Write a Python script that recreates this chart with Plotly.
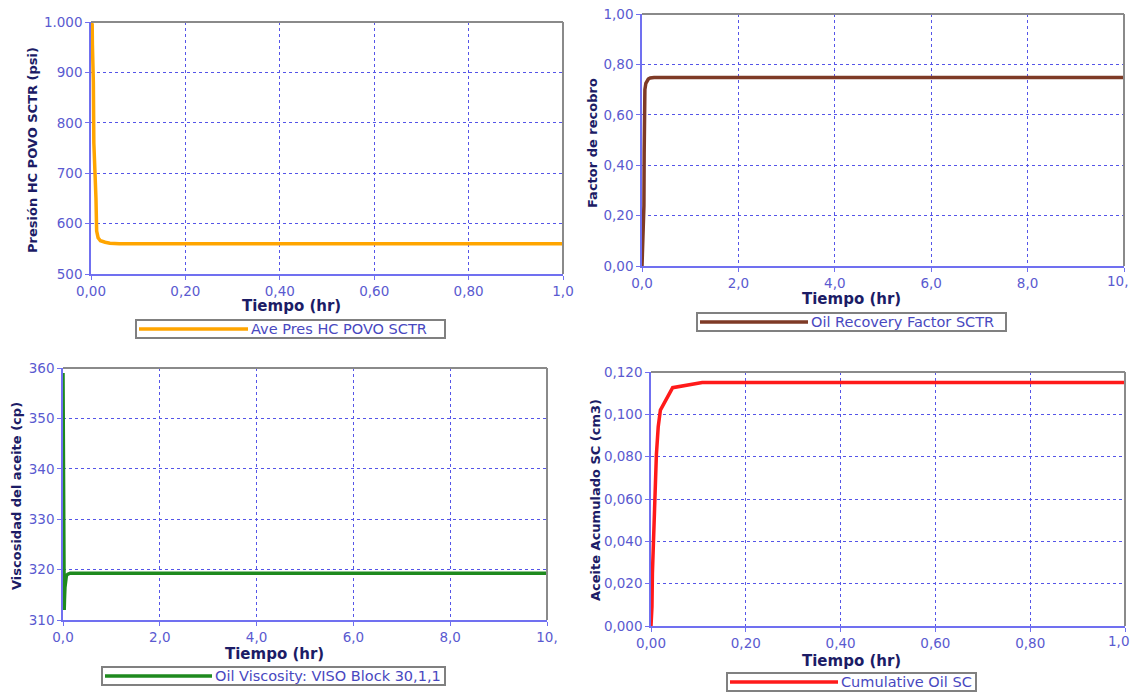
import plotly.graph_objects as go

# ---------------- data ----------------
# Panel 1: average pressure (psi) vs time (hr)
t_pres = [0, 0.0025, 0.003, 0.005, 0.006, 0.008, 0.0085, 0.0105, 0.012, 0.015, 0.02, 0.03, 0.04, 0.06, 0.2, 0.4, 0.6, 0.8, 1.0]
pres = [1000, 995, 955, 880, 760, 730, 700, 650, 585, 572, 566, 563, 561, 560, 560, 560, 560, 560, 560]

# Panel 2: oil recovery factor vs time (hr)
t_rf = [0, 0.04, 0.045, 0.05, 0.06, 0.08, 0.1, 0.13, 0.17, 0.25, 0.5, 1, 2, 4, 6, 8, 10]
rf = [0, 0.24, 0.45, 0.62, 0.70, 0.725, 0.735, 0.742, 0.746, 0.748, 0.748, 0.748, 0.748, 0.748, 0.748, 0.748, 0.748]

# Panel 3: oil viscosity (cp) vs time (hr)
t_visc = [0, 0.005, 0.01, 0.015, 0.02, 0.025, 0.03, 0.04, 0.05, 0.07, 0.1, 0.15, 0.3, 1, 2, 4, 6, 8, 10]
visc = [359, 350, 335, 320, 312, 312, 314, 316.5, 318.3, 318.8, 319.1, 319.3, 319.3, 319.3, 319.3, 319.3, 319.3, 319.3, 319.3]

# Panel 4: cumulative oil SC (cm3) vs time (hr)
t_cum = [0, 0.002, 0.003, 0.0053, 0.0076, 0.0091, 0.0114, 0.0152, 0.0198, 0.0457, 0.108, 0.2, 0.4, 0.6, 0.8, 1.0]
cum = [0, 0.009, 0.025, 0.040, 0.053, 0.069, 0.081, 0.094, 0.102, 0.1126, 0.115, 0.115, 0.115, 0.115, 0.115, 0.115]

# tick values / labels
xv_1 = [0, 0.2, 0.4, 0.6, 0.8, 1.0]
xt_1 = ["0,00", "0,20", "0,40", "0,60", "0,80", "1,0"]
xv_10 = [0, 2, 4, 6, 8, 10]
xt_10 = ["0,0", "2,0", "4,0", "6,0", "8,0", "10,"]
yv_pres = [500, 600, 700, 800, 900, 1000]
yt_pres = ["500", "600", "700", "800", "900", "1.000"]
yv_rf = [0, 0.2, 0.4, 0.6, 0.8, 1.0]
yt_rf = ["0,00", "0,20", "0,40", "0,60", "0,80", "1,00"]
yv_visc = [310, 320, 330, 340, 350, 360]
yt_visc = ["310", "320", "330", "340", "350", "360"]
yv_cum = [0, 0.02, 0.04, 0.06, 0.08, 0.10, 0.12]
yt_cum = ["0,000", "0,020", "0,040", "0,060", "0,080", "0,100", "0,120"]

names = ["Ave Pres HC POVO SCTR", "Oil Recovery Factor SCTR", "Oil Viscosity: VISO Block 30,1,1", "Cumulative Oil SC"]
ytitles = ["Presión HC POVO SCTR (psi)", "Factor de recobro", "Viscosidad del aceite (cp)", "Aceite Acumulado SC (cm3)"]
xtitle = "Tiempo (hr)"
colors = ["#FFA500", "#7E3A26", "#1E8A1E", "#FF1A1A"]

# ---------------- layout helpers ----------------
W, H = 1133, 692
def fx(px):
    return px / W
def fy(py):
    return 1 - py / H

# plot area boxes in pixels: (left, right, top, bottom)
boxes = [(91, 563, 22, 274), (642, 1124, 14, 266), (63, 547, 368, 620), (651, 1125, 372, 626)]
right_col = [False, True, False, True]

TICK_C = "#5A5AD0"
TITLE_C = "#1C1C66"
AXIS_C = "#7070F0"
GRID_C = "#5555E8"
LEG_TXT = "#4848C0"

fig = go.Figure()
series = [(t_pres, pres), (t_rf, rf), (t_visc, visc), (t_cum, cum)]
for i, (tx, ty) in enumerate(series):
    sfx = "" if i == 0 else str(i + 1)
    fig.add_trace(go.Scatter(x=tx, y=ty, mode="lines", name=names[i],
                             line=dict(color=colors[i], width=3.5),
                             xaxis="x" + sfx, yaxis="y" + sfx, showlegend=False))

xcfg = [(xv_1, xt_1, [0, 1]), (xv_10, xt_10, [0, 10]), (xv_10, xt_10, [0, 10]), (xv_1, xt_1, [0, 1])]
ycfg = [(yv_pres, yt_pres, [500, 1000]), (yv_rf, yt_rf, [0, 1]), (yv_visc, yt_visc, [310, 360]), (yv_cum, yt_cum, [0, 0.12])]

tickfont = dict(family="DejaVu Sans", size=13.5, color=TICK_C)
layout = dict(width=W, height=H, margin=dict(l=0, r=0, t=0, b=0, autoexpand=False),
              paper_bgcolor="white", plot_bgcolor="white", showlegend=False)
shapes = []
annotations = []
for i in range(4):
    sfx = "" if i == 0 else str(i + 1)
    l, r, t, b = boxes[i]
    xv, xt, xr = xcfg[i]
    yv, yt, yr = ycfg[i]
    common = dict(tickfont=tickfont, showline=True, linecolor=AXIS_C, linewidth=1.5,
                  ticks="outside", ticklen=4, tickcolor=AXIS_C,
                  showgrid=True, gridcolor=GRID_C, griddash="dot", gridwidth=1,
                  zeroline=False, fixedrange=True, automargin=False,
                  ticklabeloverflow="allow")
    xtext = list(xt)
    if right_col[i]:
        # last label sits at the page edge: draw it right-aligned so it stays inside
        xtext[-1] = ""
        annotations.append(dict(text=xt[-1], x=xv[-1], y=0, xref="x" + sfx, yref="y" + sfx + " domain",
                                showarrow=False, xanchor="right", yanchor="top", xshift=6, yshift=-5,
                                font=tickfont))
    layout["xaxis" + sfx] = dict(domain=[fx(l), fx(r)], range=xr, anchor="y" + sfx,
                                 tickvals=xv, ticktext=xtext, **common)
    layout["yaxis" + sfx] = dict(domain=[fy(b), fy(t)], range=yr, anchor="x" + sfx,
                                 tickvals=yv, ticktext=yt, **common)
    # gray top / right frame
    shapes.append(dict(type="line", xref="paper", yref="paper", x0=fx(l), x1=fx(r), y0=fy(t), y1=fy(t),
                       line=dict(color="#8A8A8A", width=2)))
    shapes.append(dict(type="line", xref="paper", yref="paper", x0=fx(r), x1=fx(r), y0=fy(t), y1=fy(b),
                       line=dict(color="#8A8A8A", width=2)))

# axis titles
xt_pos = [(291, 306), (852, 299), (274, 654), (852, 661)]
yt_pos = [(33, 150), (593, 143), (16, 496), (595, 500)]
for i in range(4):
    annotations.append(dict(text=xtitle, x=fx(xt_pos[i][0]), y=fy(xt_pos[i][1]), xref="paper", yref="paper",
                            showarrow=False, xanchor="center", yanchor="middle",
                            font=dict(family="DejaVu Sans", size=15, color=TITLE_C, weight="bold")))
    annotations.append(dict(text=ytitles[i], x=fx(yt_pos[i][0]), y=fy(yt_pos[i][1]), xref="paper", yref="paper",
                            showarrow=False, xanchor="center", yanchor="middle", textangle=-90,
                            font=dict(family="DejaVu Sans", size=13, color=TITLE_C, weight="bold")))

# legend boxes: (box left, box right, top, bottom, sample end)
legs = [(136, 445, 320, 338, 248), (697, 1006, 313, 331, 808), (102, 445, 667, 685, 212), (727, 976, 673, 691, 838)]
for i, (bl, br, bt, bb, se) in enumerate(legs):
    cy = (bt + bb) / 2
    shapes.append(dict(type="rect", xref="paper", yref="paper", x0=fx(bl), x1=fx(br), y0=fy(bb), y1=fy(bt),
                       line=dict(color="#808080", width=2), fillcolor="white"))
    shapes.append(dict(type="line", xref="paper", yref="paper", x0=fx(bl + 3), x1=fx(se), y0=fy(cy), y1=fy(cy),
                       line=dict(color=colors[i], width=3.5)))
    annotations.append(dict(text=names[i], x=fx(se + 1), y=fy(cy), xref="paper", yref="paper",
                            showarrow=False, xanchor="left", yanchor="middle",
                            font=dict(family="DejaVu Sans", size=14.5, color=LEG_TXT)))

layout["shapes"] = shapes
layout["annotations"] = annotations
fig.update_layout(**layout)
fig.write_html("out.html")
